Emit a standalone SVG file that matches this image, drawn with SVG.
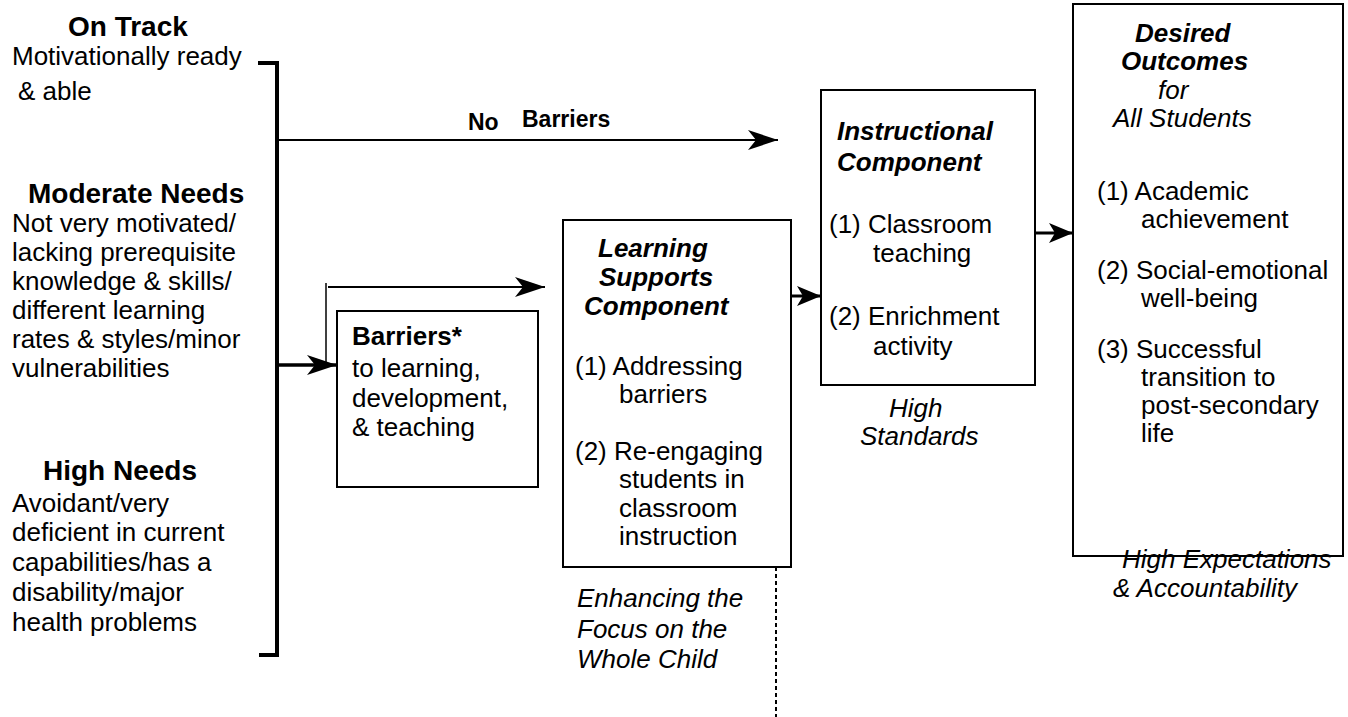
<svg xmlns="http://www.w3.org/2000/svg" width="1348" height="717" viewBox="0 0 1348 717">
  <defs>
    <marker id="head" viewBox="-31 -12 32 24" refX="0" refY="0" markerWidth="32" markerHeight="24" markerUnits="userSpaceOnUse" orient="auto">
      <path d="M0,0 L-30,-10 L-22,0 L-30,10 Z" fill="#000"/>
    </marker>
    <marker id="headS" viewBox="-25 -11 26 22" refX="0" refY="0" markerWidth="26" markerHeight="22" markerUnits="userSpaceOnUse" orient="auto">
      <path d="M0,0 L-24,-10 L-18,0 L-24,10 Z" fill="#000"/>
    </marker>
    <style>
      text { font-family: "Liberation Sans", Arial, sans-serif; font-size: 26px; fill: #000; }
      .hd { font-weight: bold; font-size: 28px; }
      .bi { font-weight: bold; font-style: italic; }
      .b { font-weight: bold; }
      .i { font-style: italic; }
      .nb { font-weight: bold; font-size: 23px; }
      .box { fill: #fff; stroke: #000; stroke-width: 2; }
      .ln { stroke: #000; fill: none; }
    </style>
  </defs>

  <rect width="1348" height="717" fill="#fff"/>

  <!-- student groups on the left -->
  <g id="on-track">
    <text class="hd" x="68" y="36">On Track</text>
    <text x="12" y="65">Motivationally ready</text>
    <text x="18" y="100">&amp; able</text>
  </g>
  <g id="moderate-needs">
    <text class="hd" x="28" y="203">Moderate Needs</text>
    <text x="12" y="232">Not very motivated/</text>
    <text x="12" y="261">lacking prerequisite</text>
    <text x="12" y="290">knowledge &amp; skills/</text>
    <text x="12" y="319">different learning</text>
    <text x="12" y="348">rates &amp; styles/minor</text>
    <text x="12" y="377">vulnerabilities</text>
  </g>
  <g id="high-needs">
    <text class="hd" x="43" y="480">High Needs</text>
    <text x="12" y="512">Avoidant/very</text>
    <text x="12" y="541">deficient in current</text>
    <text x="12" y="571">capabilities/has a</text>
    <text x="12" y="601">disability/major</text>
    <text x="12" y="631">health problems</text>
  </g>

  <!-- barriers -->
  <g id="barriers">
    <rect class="box" x="337" y="311" width="201" height="176"/>
    <text class="b" x="352" y="345">Barriers*</text>
    <text x="352" y="377">to learning,</text>
    <text x="352" y="407">development,</text>
    <text x="352" y="436">&amp; teaching</text>
  </g>

  <!-- learning supports component -->
  <g id="learning-supports">
    <rect class="box" x="563" y="220" width="228" height="347"/>
    <text class="bi" x="598" y="257">Learning</text>
    <text class="bi" x="599" y="286">Supports</text>
    <text class="bi" x="584" y="315">Component</text>
    <text x="575" y="375">(1) Addressing</text>
    <text x="619" y="403">barriers</text>
    <text x="575" y="460">(2) Re-engaging</text>
    <text x="619" y="488">students in</text>
    <text x="619" y="517">classroom</text>
    <text x="619" y="545">instruction</text>
    <text class="i" x="577" y="607">Enhancing the</text>
    <text class="i" x="577" y="638">Focus on the</text>
    <text class="i" x="577" y="668">Whole Child</text>
  </g>

  <!-- instructional component -->
  <g id="instructional">
    <rect class="box" x="821" y="90" width="214" height="295"/>
    <text class="bi" x="837" y="140">Instructional</text>
    <text class="bi" x="837" y="171">Component</text>
    <text x="829" y="233">(1) Classroom</text>
    <text x="873" y="262">teaching</text>
    <text x="829" y="325">(2) Enrichment</text>
    <text x="873" y="355">activity</text>
    <text class="i" x="889" y="417">High</text>
    <text class="i" x="860" y="445">Standards</text>
  </g>

  <!-- desired outcomes -->
  <g id="outcomes">
    <rect class="box" x="1073" y="4" width="270" height="552"/>
    <text class="bi" x="1135" y="42">Desired</text>
    <text class="bi" x="1121" y="70">Outcomes</text>
    <text class="i" x="1158" y="99">for</text>
    <text class="i" x="1113" y="127">All Students</text>
    <text x="1097" y="200">(1) Academic</text>
    <text x="1141" y="228">achievement</text>
    <text x="1097" y="279">(2) Social-emotional</text>
    <text x="1141" y="307">well-being</text>
    <text x="1097" y="358">(3) Successful</text>
    <text x="1141" y="386">transition to</text>
    <text x="1141" y="414">post-secondary</text>
    <text x="1141" y="442">life</text>
    <text class="i" x="1122" y="568">High Expectations</text>
    <text class="i" x="1113" y="597">&amp; Accountability</text>
  </g>

  <!-- connectors -->
  <g id="connectors">
    <!-- bracket gathering the three groups -->
    <path class="ln" d="M258,63 H277 V655 H259" stroke-width="4"/>
    <!-- no barriers path -->
    <line class="ln" x1="279" y1="140" x2="778" y2="140" stroke-width="2" marker-end="url(#head)"/>
    <text class="nb" x="468" y="130">No</text>
    <text class="nb" x="522" y="127">Barriers</text>
    <!-- into barriers -->
    <line class="ln" x1="279" y1="365" x2="337" y2="365" stroke-width="3.5" marker-end="url(#head)"/>
    <!-- around barriers to learning supports -->
    <line class="ln" x1="326" y1="283" x2="326" y2="365" stroke-width="1.5"/>
    <line class="ln" x1="328" y1="287" x2="545" y2="287" stroke-width="1.8" marker-end="url(#head)"/>
    <!-- learning supports to instruction -->
    <line class="ln" x1="791" y1="296" x2="821" y2="296" stroke-width="3" marker-end="url(#headS)"/>
    <!-- instruction to outcomes -->
    <line class="ln" x1="1035" y1="233" x2="1073" y2="233" stroke-width="3" marker-end="url(#headS)"/>
    <!-- dashed drop -->
    <line class="ln" x1="776" y1="567" x2="776" y2="717" stroke-width="2" stroke-dasharray="4,3"/>
  </g>
</svg>
